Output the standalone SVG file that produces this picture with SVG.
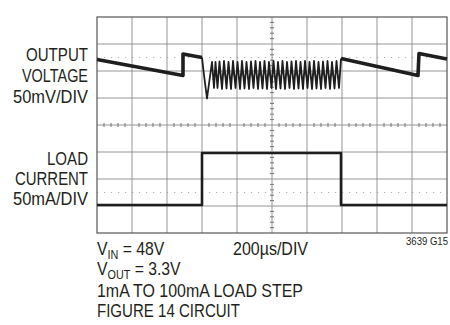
<svg xmlns="http://www.w3.org/2000/svg" width="450" height="325" viewBox="0 0 450 325">
<style>
.grid{stroke:#8a8a8a;stroke-width:0.9;fill:none}
.frame{stroke:#555;stroke-width:1.2;fill:none}
.tick{stroke:#666;stroke-width:0.9;fill:none}
.dots{stroke:#b0b0b0;stroke-width:1;stroke-dasharray:1.2 5.8;fill:none}
.trace{stroke:#1e1e1e;fill:none;stroke-linejoin:round}
.lbl{font-family:"Liberation Sans",Arial,sans-serif;font-size:17.5px;fill:#231f20}
.small{font-family:"Liberation Sans",Arial,sans-serif;font-size:10px;fill:#231f20}
</style>
<rect width="450" height="325" fill="#fff"/>
<g id="graticule">
<path class="dots" d="M97,57.5H447M97,192.5H447"/>
<path class="grid" d="M132,17V233M167,17V233M202,17V233M237,17V233M272,17V233M307,17V233M342,17V233M377,17V233M412,17V233M97,44H447M97,71H447M97,98H447M97,125H447M97,152H447M97,179H447M97,206H447"/>
<path class="tick" d="M104,123V127M111,123V127M118,123V127M125,123V127M139,123V127M146,123V127M153,123V127M160,123V127M174,123V127M181,123V127M188,123V127M195,123V127M209,123V127M216,123V127M223,123V127M230,123V127M244,123V127M251,123V127M258,123V127M265,123V127M279,123V127M286,123V127M293,123V127M300,123V127M314,123V127M321,123V127M328,123V127M335,123V127M349,123V127M356,123V127M363,123V127M370,123V127M384,123V127M391,123V127M398,123V127M405,123V127M419,123V127M426,123V127M433,123V127M440,123V127"/>
<path class="tick" d="M270,22.4H274M270,27.8H274M270,33.2H274M270,38.6H274M270,49.4H274M270,54.8H274M270,60.2H274M270,65.6H274M270,76.4H274M270,81.8H274M270,87.2H274M270,92.6H274M270,103.4H274M270,108.8H274M270,114.2H274M270,119.6H274M270,130.4H274M270,135.8H274M270,141.2H274M270,146.6H274M270,157.4H274M270,162.8H274M270,168.2H274M270,173.6H274M270,184.4H274M270,189.8H274M270,195.2H274M270,200.6H274M270,211.4H274M270,216.8H274M270,222.2H274M270,227.6H274"/>
<rect class="frame" x="97" y="17" width="350" height="216"/>
</g>
<g id="output-voltage-trace">
<polyline class="trace" stroke-width="3.6" points="97,59.5 183,75.5 183,54 202,57.5"/>
<polyline class="trace" stroke-width="1.8" points="202,57.5 204,75 207,98.5 209.5,80 212,62 214,88 215.5,62 217.5,88 219.5,61.5 222,89 224,61 226.5,88.5 228.5,62 231,89 233,61 235.5,88 237.5,62 240,89 242,61 244.5,88.5 246.5,62 249,89 251,61.5 253.5,88 255.5,61 258,89 260,62 262.5,88.5 264.5,61 267,89 269,62 271.5,88 273.5,61 276,89 278,62 280.5,88.5 282.5,61 285,89 287,62 289.5,88 291.5,61.5 294,89 296,61 298.5,88.5 300.5,62 303,89 305,61 307.5,88 309.5,62 312,89 314,61 316.5,88.5 318.5,62 321,89 323,61.5 325.5,88 327.5,61 330,89 332,62 334.5,88.5 336.5,61 339,88 341,58.5"/>
<polyline class="trace" stroke-width="1" stroke="#666" points="213,80 215,70 217,80 219.5,70 221.5,80 224,70 226,80 228.5,70 230.5,80 233,70 235,80 237.5,70 239.5,80 242,70 244,80 246.5,70 248.5,80 251,70 253,80 255.5,70 257.5,80 260,70 262,80 264.5,70 266.5,80 269,70 271,80 273.5,70 275.5,80 278,70 280,80 282.5,70 284.5,80 287,70 289,80 291.5,70 293.5,80 296,70 298,80 300.5,70 302.5,80 305,70 307,80 309.5,70 311.5,80 314,70 316,80 318.5,70 320.5,80 323,70 325,80 327.5,70 329.5,80 332,70 334,80 336.5,70 338.5,80"/>
<polyline class="trace" stroke-width="3.6" points="341,58.5 418,75.5 419,53.5 447,59"/>
</g>
<g id="load-current-trace">
<polyline class="trace" stroke-width="2.6" points="97,205 202,205 202,153 341,153 341,205 447,205"/>
</g>
<g id="label-output-voltage">
<text class="lbl" x="88" y="61" text-anchor="end" textLength="62" lengthAdjust="spacingAndGlyphs">OUTPUT</text>
<text class="lbl" x="88" y="82" text-anchor="end" textLength="66" lengthAdjust="spacingAndGlyphs">VOLTAGE</text>
<text class="lbl" x="88" y="103" text-anchor="end" textLength="75" lengthAdjust="spacingAndGlyphs">50mV/DIV</text>
</g>
<g id="label-load-current">
<text class="lbl" x="88" y="165" text-anchor="end" textLength="41" lengthAdjust="spacingAndGlyphs">LOAD</text>
<text class="lbl" x="88" y="185" text-anchor="end" textLength="73" lengthAdjust="spacingAndGlyphs">CURRENT</text>
<text class="lbl" x="88" y="205" text-anchor="end" textLength="75" lengthAdjust="spacingAndGlyphs">50mA/DIV</text>
</g>
<g id="conditions">
<g transform="translate(97,0) scale(0.9,1)">
<text class="lbl" x="0" y="255">V<tspan font-size="12" dy="4">IN</tspan><tspan dy="-4"> = 48V</tspan></text>
<text class="lbl" x="0" y="275.5">V<tspan font-size="12" dy="4">OUT</tspan><tspan dy="-4"> = 3.3V</tspan></text>
</g>
<text class="lbl" x="97" y="296.5" textLength="206" lengthAdjust="spacingAndGlyphs">1mA TO 100mA LOAD STEP</text>
<text class="lbl" x="97" y="316.5" textLength="143" lengthAdjust="spacingAndGlyphs">FIGURE 14 CIRCUIT</text>
<text class="lbl" x="233" y="255" textLength="75" lengthAdjust="spacingAndGlyphs">200µs/DIV</text>
<text class="small" x="448" y="245" text-anchor="end" textLength="42" lengthAdjust="spacingAndGlyphs">3639 G15</text>
</g>
</svg>
